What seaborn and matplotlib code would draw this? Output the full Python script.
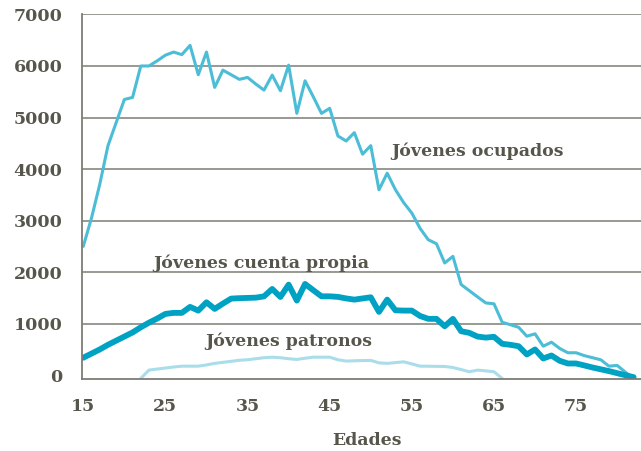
import numpy as np
import pandas as pd
import matplotlib
matplotlib.use("Agg")
import matplotlib.pyplot as plt
import seaborn as sns

# edades de 15 a 82
edades = list(range(15, 83))

ocupados = [2500, 3050, 3700, 4450, 4900, 5350, 5390, 6000, 6000, 6100,
            6210, 6270, 6220, 6400, 5830, 6270, 5585, 5919, 5830, 5740,
            5778, 5650, 5532, 5823, 5519, 6016, 5081, 5712, 5403, 5081,
            5178, 4642, 4545, 4706, 4288, 4454, 3597, 3920, 3600, 3350,
            3146, 2850, 2629, 2551, 2178, 2306, 1760, 1640, 1520, 1403,
            1386, 1028, 980, 930, 757, 803, 563, 641, 520, 436,
            436, 380, 340, 300, 176, 190, 60, -70]

cuenta_propia = [340, 420, 500, 590, 670, 750, 830, 930, 1020, 1100,
                 1190, 1210, 1210, 1326, 1254, 1415, 1287, 1390, 1487, 1495,
                 1500, 1505, 1530, 1674, 1519, 1758, 1448, 1771, 1650, 1531,
                 1531, 1520, 1490, 1467, 1490, 1512, 1229, 1467, 1260, 1254,
                 1254, 1150, 1094, 1094, 950, 1094, 854, 822, 750, 730,
                 745, 610, 590, 563, 403, 500, 325, 383, 280, 228,
                 228, 190, 150, 115, 80, 40, 0, -37]

# patronos de 22 a 66
edades_patronos = list(range(22, 67))
patronos = [-62, 100, 120, 140, 160, 176, 176, 176, 200, 230,
            250, 270, 290, 300, 320, 340, 350, 340, 320, 306,
            330, 350, 350, 350, 300, 275, 280, 285, 287, 240,
            230, 245, 260, 220, 176, 175, 172, 170, 150, 110,
            68, 99, 85, 68, -62]

yticks = [0, 1000, 2000, 3000, 4000, 5000, 6000, 7000]
xticks = [15, 25, 35, 45, 55, 65, 75]

df = pd.DataFrame({"edad": edades, "ocupados": ocupados, "cuenta_propia": cuenta_propia})
df_pat = pd.DataFrame({"edad": edades_patronos, "patronos": patronos})

sns.set_style("white")
plt.rcParams['font.family'] = ['DejaVu Serif']
txt = "#56564c"
grid = "#7d7d75"

fig = plt.figure(figsize=(6.41, 4.51), dpi=100)
ax = fig.add_axes([0.128, 0.16, 0.872, 0.808])

sns.lineplot(data=df, x="edad", y="ocupados", color="#4bbdd6", linewidth=2.2, ax=ax)
sns.lineplot(data=df, x="edad", y="cuenta_propia", color="#00a2c4", linewidth=4.2, ax=ax)
sns.lineplot(data=df_pat, x="edad", y="patronos", color="#a9dde9", linewidth=2.2, ax=ax)

ax.set_xlim(14.85, 82.9)
ax.set_ylim(-70, 7000)
ax.set_xticks(xticks)
ax.set_yticks(yticks)
for v in yticks[1:]:
    ax.axhline(v, color=grid, linewidth=1.1, zorder=0)

for s in ["top", "right"]:
    ax.spines[s].set_visible(False)
for s in ["left", "bottom"]:
    ax.spines[s].set_color(grid)
    ax.spines[s].set_linewidth(1.3)

ax.tick_params(axis="both", length=0, labelsize=12.5, labelcolor=txt)
ax.tick_params(axis="x", pad=14)
ax.tick_params(axis="y", pad=14)
for lab in ax.get_xticklabels() + ax.get_yticklabels():
    lab.set_fontweight("bold")

ax.set_xlabel("Edades", fontsize=12.5, fontweight="bold", color=txt, labelpad=12)
ax.xaxis.label.set_x(0.509)
ax.set_ylabel("")

ax.text(52.5, 4340, "Jóvenes ocupados", fontsize=12.5, fontweight="bold", color=txt, va="center")
ax.text(23.5, 2170, "Jóvenes cuenta propia", fontsize=12.5, fontweight="bold", color=txt, va="center")
ax.text(29.8, 660, "Jóvenes patronos", fontsize=12.5, fontweight="bold", color=txt, va="center")

fig.savefig("out.png", dpi=100)
